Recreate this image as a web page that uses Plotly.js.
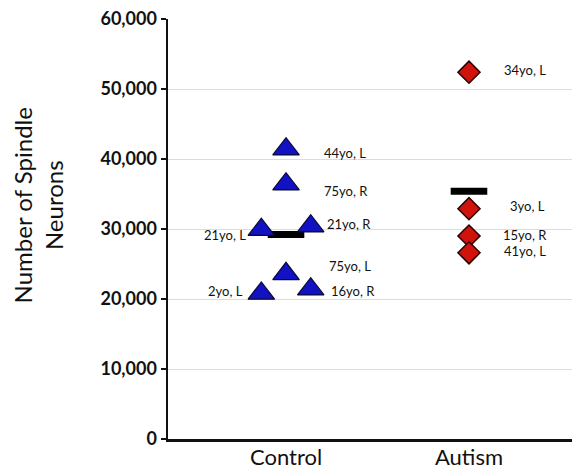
<!DOCTYPE html>
<html>
<head>
<meta charset="utf-8">
<script src="https://cdn.plot.ly/plotly-3.0.1.min.js"></script>
<style>
  html, body { margin: 0; padding: 0; background: #fff; }
  #chart { width: 572px; height: 473px; }
</style>
</head>
<body>
<div id="chart"></div>
<script>
// ---- data ----
const categories = ["Control", "Autism"];
const controlValues = [41400, 36400, 29900, 30400, 23600, 21400, 20800];
const controlLabels = ["44yo, L", "75yo, R", "21yo, L", "21yo, R", "75yo, L", "16yo, R", "2yo, L"];
const autismValues = [52400, 32900, 29000, 26600];
const autismLabels = ["34yo, L", "3yo, L", "15yo, R", "41yo, L"];
const groupMeans = [29200, 35400];
const yTickVals = [0, 10000, 20000, 30000, 40000, 50000, 60000];

// ---- positions / styles (not data) ----
const colSpacing = 0.135;
const controlColumn = [0, 0, -1, 1, 0, 1, -1];
const autismColumn = [0, 0, 0, 0];
const controlLabelShift = [[36, -4, "left"], [36, -7, "left"], [-13, -5, "right"], [14, 2, "left"],
                           [41, 8, "left"], [18, -2, "left"], [-16, 2, "right"]];
const autismLabelShift = [[33, 2, "left"], [39, 3, "left"], [32, 1, "left"], [33, 2, "left"]];
const meanHalfWidth = 0.1;

const catX = categories.map((c, i) => i);
const controlX = controlColumn.map(c => catX[0] + c * colSpacing);
const autismX = autismColumn.map(c => catX[1] + c * colSpacing);

const traces = [];
// mean bars
groupMeans.forEach((m, i) => {
  traces.push({
    x: [catX[i] - meanHalfWidth, catX[i] + meanHalfWidth],
    y: [m, m],
    mode: "lines",
    line: { color: "#000", width: 7 },
    hoverinfo: "skip",
    showlegend: false
  });
});
traces.push({
  x: controlX, y: controlValues, mode: "markers", name: categories[0],
  marker: { symbol: "triangle-up", size: 23, color: "rgb(18,18,196)", line: { color: "#0a0a30", width: 1.2 } },
  showlegend: false
});
traces.push({
  x: autismX, y: autismValues, mode: "markers", name: categories[1],
  marker: { symbol: "diamond", size: 17, color: "rgb(208,20,12)", line: { color: "#2a0000", width: 1.5 } },
  showlegend: false
});

const annotations = [];
controlValues.forEach((v, i) => {
  const s = controlLabelShift[i];
  annotations.push({
    x: controlX[i], y: v, xref: "x", yref: "y", text: controlLabels[i], showarrow: false,
    xanchor: s[2], yanchor: "middle", xshift: s[0], yshift: s[1],
    font: { family: "Lato, sans-serif", size: 13, color: "#111" }
  });
});
autismValues.forEach((v, i) => {
  const s = autismLabelShift[i];
  annotations.push({
    x: autismX[i], y: v, xref: "x", yref: "y", text: autismLabels[i], showarrow: false,
    xanchor: s[2], yanchor: "middle", xshift: s[0], yshift: s[1],
    font: { family: "Lato, sans-serif", size: 13, color: "#111" }
  });
});
annotations.push({
  x: -0.323, y: 0.555, xref: "paper", yref: "paper",
  text: "Number of Spindle<br>Neurons", showarrow: false, textangle: -90,
  xanchor: "center", yanchor: "middle",
  font: { family: "Lato, sans-serif", size: 24, color: "#111" }
});

const layout = {
  width: 572, height: 473,
  margin: { l: 168, r: 0, t: 19, b: 34, pad: 0 },
  paper_bgcolor: "#fff", plot_bgcolor: "#fff",
  showlegend: false,
  xaxis: {
    range: [-0.645, 1.563], tickvals: catX, ticktext: categories,
    showgrid: false, zeroline: false, showline: true, linecolor: "#111", linewidth: 2.5,
    ticks: "", automargin: false, ticklabelstandoff: -3,
    tickfont: { family: "Lato, sans-serif", size: 22, color: "#111" }
  },
  yaxis: {
    range: [0, 60000], tickvals: yTickVals, tickformat: ",d",
    showgrid: true, gridcolor: "#dcdcdc", gridwidth: 1, zeroline: false,
    showline: true, linecolor: "#111", linewidth: 2.5,
    ticks: "outside", ticklen: 5, tickwidth: 2, tickcolor: "#111", automargin: false,
    tickfont: { family: "Lato, sans-serif", size: 18, color: "#111", weight: "bold" }
  },
  annotations: annotations
};

Plotly.newPlot("chart", traces, layout, { staticPlot: true, displayModeBar: false });
</script>
</body>
</html>
